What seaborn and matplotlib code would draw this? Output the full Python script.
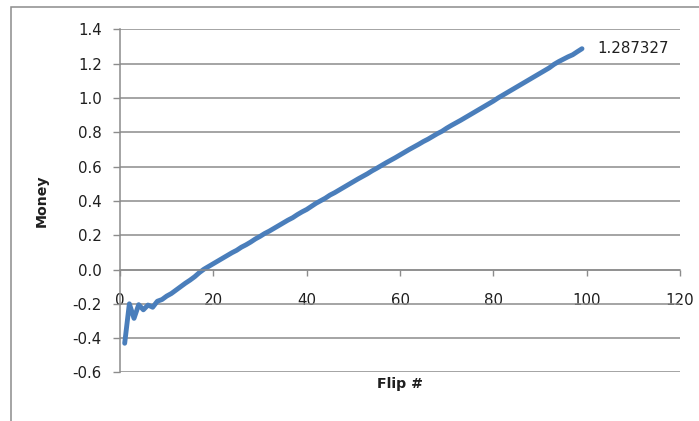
import matplotlib
matplotlib.use("Agg")
import matplotlib.pyplot as plt
from matplotlib.patches import Rectangle
import seaborn as sns
import numpy as np
import pandas as pd

sns.set_theme(style="white")
plt.rcParams['font.family'] = ['DejaVu Sans']
plt.rcParams['axes.unicode_minus'] = False

flips = list(range(1, 100))
money = [
    -0.430, -0.200, -0.285, -0.205, -0.235, -0.207, -0.220, -0.185, -0.175, -0.155,
    -0.140, -0.120, -0.100, -0.080, -0.062, -0.042, -0.018, 0.002, 0.018, 0.034,
    0.050, 0.066, 0.082, 0.098, 0.112, 0.130, 0.144, 0.160, 0.178, 0.193,
    0.210, 0.224, 0.240, 0.256, 0.272, 0.288, 0.302, 0.320, 0.336, 0.350,
    0.368, 0.386, 0.401, 0.416, 0.434, 0.448, 0.464, 0.480, 0.496, 0.512,
    0.528, 0.543, 0.558, 0.575, 0.590, 0.606, 0.622, 0.637, 0.652, 0.668,
    0.684, 0.700, 0.715, 0.730, 0.746, 0.760, 0.776, 0.792, 0.806, 0.824,
    0.840, 0.855, 0.870, 0.886, 0.902, 0.918, 0.934, 0.950, 0.966, 0.982,
    1.000, 1.016, 1.032, 1.048, 1.064, 1.080, 1.096, 1.112, 1.128, 1.144,
    1.160, 1.176, 1.196, 1.212, 1.226, 1.240, 1.252, 1.270, 1.287327,
]
x_ticks = [0, 20, 40, 60, 80, 100, 120]
y_ticks = [-0.6, -0.4, -0.2, 0.0, 0.2, 0.4, 0.6, 0.8, 1.0, 1.2, 1.4]

df = pd.DataFrame({"Flip #": flips, "Money": money})

grey = "#8c8c8c"
txt = "#1f1f1f"
fig = plt.figure(figsize=(6.99, 4.21), dpi=100)
ax = fig.add_axes([0.1717, 0.1154, 0.8011, 0.8148])

sns.lineplot(data=df, x="Flip #", y="Money", ax=ax, color="#4a7ebb", linewidth=3.5)

ax.set_xlim(0, 120)
ax.set_ylim(-0.6, 1.4)
ax.set_xticks(x_ticks)
ax.set_yticks(y_ticks)
ax.set_yticklabels([f"{v:.1f}" for v in y_ticks])
ax.set_xticklabels([str(v) for v in x_ticks])

ax.yaxis.grid(True, color=grey, linewidth=1.1)
ax.xaxis.grid(False)
for s in ["top", "right"]:
    ax.spines[s].set_visible(False)
ax.spines["bottom"].set_position(("data", 0))
ax.spines["bottom"].set_color(grey)
ax.spines["left"].set_color(grey)
ax.spines["bottom"].set_linewidth(1.1)
ax.spines["left"].set_linewidth(1.1)

ax.tick_params(axis="x", direction="out", length=4, width=1, color=grey,
               pad=13, labelsize=10.8, labelcolor=txt, bottom=True)
ax.tick_params(axis="y", direction="out", length=5, width=1, color=grey,
               pad=8, labelsize=10.8, labelcolor=txt, left=True)

ax.set_xlabel("Flip #", fontsize=10.2, fontweight="bold", color=txt)
ax.set_ylabel("Money", fontsize=10.2, fontweight="bold", color=txt)
ax.xaxis.set_label_coords(0.5, -0.013)
ax.yaxis.set_label_coords(-0.128, 0.5)

ax.annotate(f"{money[-1]:.6f}", xy=(flips[-1], money[-1]), xytext=(11, 0),
            textcoords="offset points", ha="left", va="center",
            fontsize=10.8, color=txt)

fig.patches.append(Rectangle((11 / 699, -0.1), 1.2, 1.1 - 7 / 421,
                             transform=fig.transFigure, fill=False,
                             edgecolor=grey, linewidth=1.1))

fig.savefig("out.png", dpi=100)
